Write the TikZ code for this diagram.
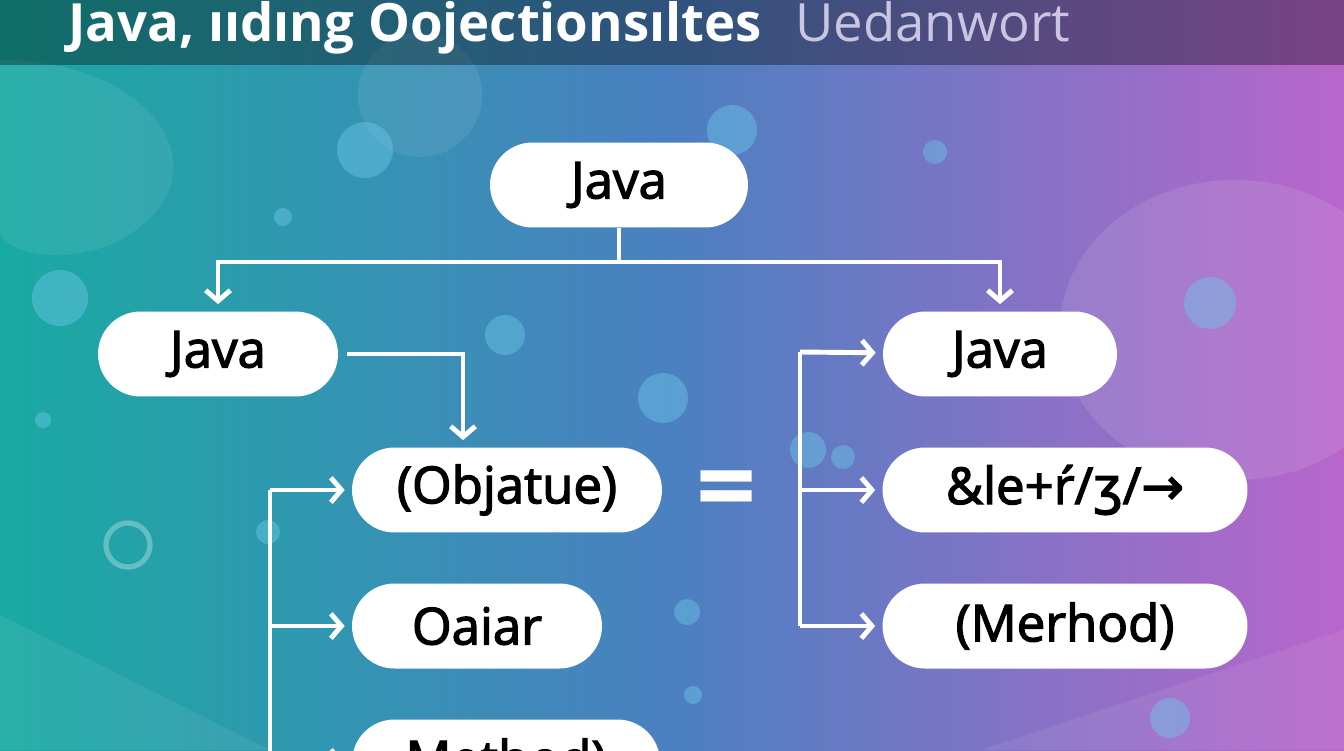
\documentclass[tikz,border=0pt]{standalone}
\usepackage{fontspec}
\setmainfont{Open Sans}
\newfontfamily\medfont{Open Sans}[FakeBold=2.5]
\newfontfamily\symfont{DejaVu Sans}[FakeBold=2.5]
\usetikzlibrary{arrows.meta,calc}
\definecolor{seateal}{HTML}{19AAA2}
\definecolor{midblue}{HTML}{4B80C1}
\definecolor{orchid}{HTML}{B966CB}
\definecolor{bubble}{HTML}{6CC8E8}
\definecolor{titlegray}{HTML}{C9C5E3}

\begin{document}
\begin{tikzpicture}[x=0.02cm,y=-0.02cm,
    pill/.style={rectangle,rounded corners=0.85cm,fill=white,minimum height=1.7cm,
      text=black,font=\fontsize{29}{32}\medfont},
    link/.style={white,line width=2.8pt},
    >={Straight Barb[length=6pt,width=14pt]}]

    \useasboundingbox (0,0) rectangle (1344,750);
    \clip (0,0) rectangle (1344,750);
    % background
    \shade[left color=seateal,right color=midblue] (0,0) rectangle (673,750);
    \shade[left color=midblue,right color=orchid] (672,0) rectangle (1344,750);
    \fill[white,opacity=0.08] (0,60) .. controls (160,60) and (230,180) .. (120,240) .. controls (60,270) and (0,250) .. (0,230) -- cycle;
    \fill[white,opacity=0.08] (420,95) circle (62);
    \fill[white,opacity=0.10] (1235,330) ellipse (175 and 150);
    \fill[white,opacity=0.07] (0,615) -- (270,750) -- (0,750) -- cycle;
    \fill[white,opacity=0.07] (980,750) -- (1344,630) -- (1344,750) -- cycle;
    \foreach \bx/\by/\br in {365/150/28, 732/130/25, 935/152/12, 283/217/9, 60/298/28,
      505/335/20, 663/398/25, 1210/303/26, 43/420/8, 808/450/18, 843/457/12,
      687/612/13, 693/695/9, 1170/718/20, 268/532/12}
      \fill[bubble,opacity=0.45] (\bx,\by) circle (\br);
    \draw[white,opacity=0.3,line width=3pt] (128,545) circle (22);

    % title bar
    \fill[black,opacity=0.35] (0,0) rectangle (1344,65);
    \node[anchor=base west,inner sep=0,text=white,font=\fontsize{30}{30}\selectfont\bfseries] (title) at (68,42) {Java, ııdıng Oojectionsıltes};
    \node[anchor=base west,inner sep=0,text=titlegray,font=\fontsize{30}{30}\selectfont] (subtitle) at (795,42) {Uedanwort};

    \node[pill,minimum width=5.16cm] (j0) at (619,185) {Java};
\node[pill,minimum width=4.8cm] (j1) at (218,354) {Java};
\node[pill,minimum width=4.68cm] (r1) at (1000,354) {Java};
\node[pill,minimum width=6.2cm] (o1) at (507,490) {(Objatue)};
\node[pill,minimum width=5cm] (o2) at (477,626) {Oaiar};
\node[pill,minimum width=6.16cm] (o3) at (506,762) {Method)};
\node[pill,minimum width=7.3cm] (r2) at (1065,490) {\&le+ŕ/{\symfont ʒ}/{\symfont →}};
\node[pill,minimum width=7.3cm] (r3) at (1065,626) {(Merhod)};
\node[text=white,font=\fontsize{60}{60}\selectfont\bfseries] (eq) at (727,497) {=};

    \coordinate (split) at (619,262);
\coordinate (ltop) at (270,490);
\coordinate (lbot) at (270,760);
\coordinate (rtop) at (800,352);
\draw[link] (j0) -- (split);
\draw[link,->,shorten >=4pt] (split) -| (j1);
\draw[link,->,shorten >=4pt] (split) -| (r1);
\draw[link,->,shorten <=5pt,shorten >=4pt] (j1.east) -| ([xshift=-0.88cm]o1.north);
\draw[link] (ltop) -- (lbot);
\draw[link,->,shorten >=4pt] (ltop) -- (o1);
\draw[link,->,shorten >=4pt] (ltop |- o2) -- (o2);
\draw[link,->,shorten >=4pt] (ltop |- o3) -- (o3);
\draw[link] (rtop) -- (rtop |- r3);
\draw[link,->,shorten >=4pt] (rtop) -- (r1);
\draw[link,->,shorten >=4pt] (rtop |- r2) -- (r2);
\draw[link,->,shorten >=4pt] (rtop |- r3) -- (r3);

  \end{tikzpicture}
\end{document}
